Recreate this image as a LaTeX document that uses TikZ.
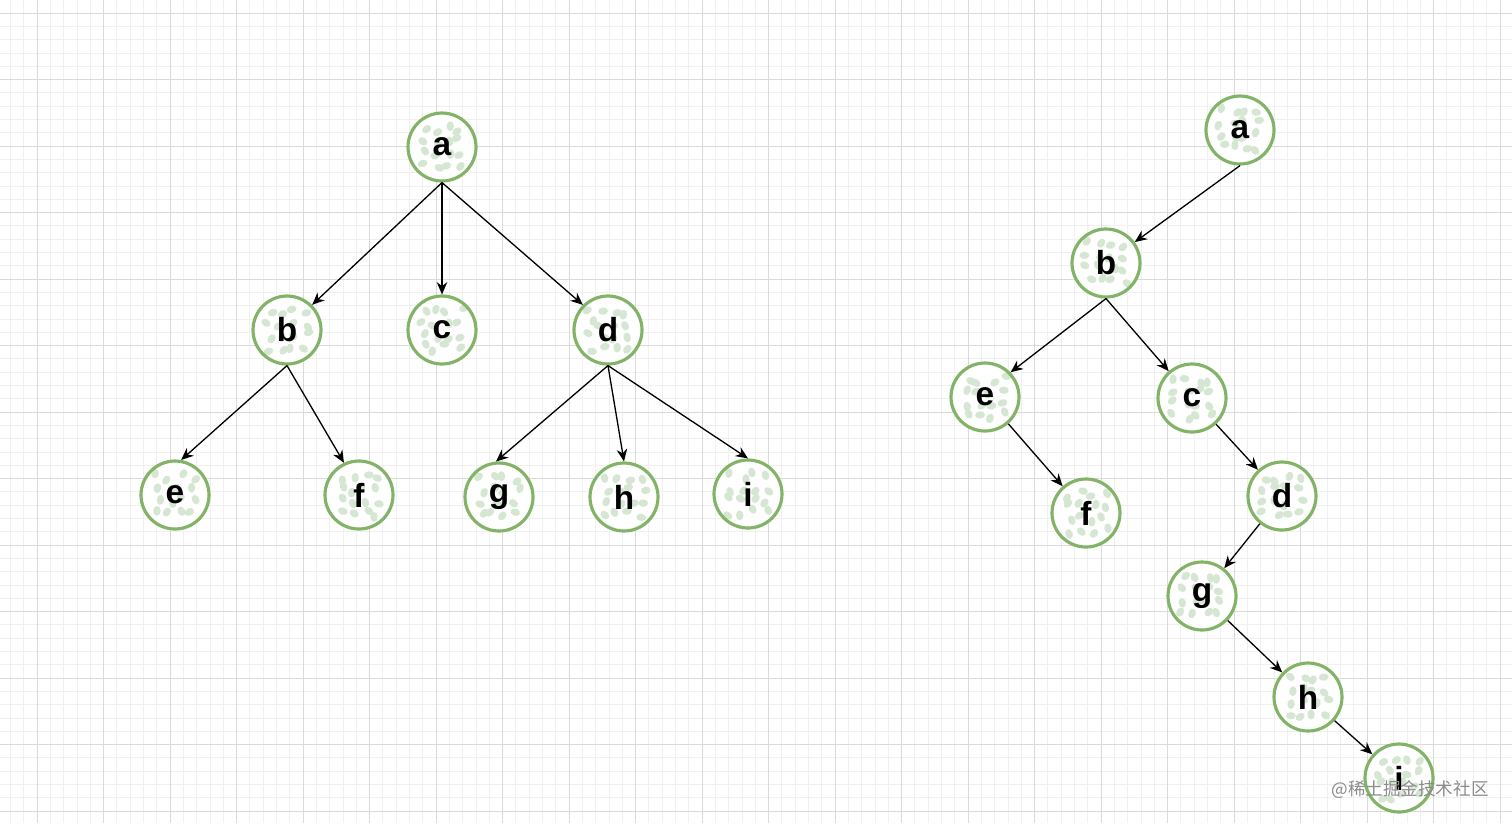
\documentclass[tikz,border=0pt]{standalone}
\usepackage{fontspec}
\setmainfont{Liberation Sans}
\newfontfamily\cjk{Noto Sans CJK SC}
\usetikzlibrary{arrows.meta}
\definecolor{gstroke}{HTML}{82B366}
\definecolor{gdot}{HTML}{D5E7D2}
\definecolor{minorgrid}{HTML}{F0F0F0}
\definecolor{majorgrid}{HTML}{DADADA}
\begin{document}
\pgfmathsetseed{11}
\begin{tikzpicture}[x=0.02cm,y=-0.02cm,
  tnode/.style={circle, inner sep=0pt, minimum size=1.36cm, draw=gstroke,
    line width=1.8pt, fill=white,
    font=\fontsize{19}{19}\bfseries\selectfont,
    path picture={
      \foreach \px in {-18,-6,6,18}{
        \foreach \py in {-18,-6,6,18}{
          \pgfmathsetmacro\dx{\px+4*rand}
          \pgfmathsetmacro\dy{\py+4*rand}
          \pgfmathsetmacro\rr{90*rand}
          \fill[gdot] (path picture bounding box.center) ++(\dx,\dy)
            ellipse [x radius=2.8pt, y radius=2.1pt, rotate=\rr];
        }}}},
  edge/.style={draw=black, line width=0.75pt, -{Stealth[length=7pt,width=6pt]}},
  wmark/.style={text=black!45, font=\cjk\fontsize{10}{10}\selectfont}
]
\useasboundingbox (0,0) rectangle (1512,823);
\fill[white] (0,0) rectangle (1512,823);
% grid
\foreach \i in {-3,...,113}{
  \draw[minorgrid, line width=0.4pt] ({37+13.3*\i},0) -- ({37+13.3*\i},823);
}
\foreach \i in {-1,...,62}{
  \draw[minorgrid, line width=0.4pt] (0,{13+13.3*\i}) -- (1512,{13+13.3*\i});
}
\foreach \i in {0,...,22}{
  \draw[majorgrid, line width=0.5pt] ({37+66.5*\i},0) -- ({37+66.5*\i},823);
}
\foreach \i in {0,...,12}{
  \draw[majorgrid, line width=0.5pt] (0,{13+66.5*\i}) -- (1512,{13+66.5*\i});
}
% left tree
\node[tnode] (La) at (442,147) {a};
\node[tnode] (Lb) at (287,330) {b};
\node[tnode] (Lc) at (442,330) {c};
\node[tnode] (Ld) at (608,330) {d};
\node[tnode] (Le) at (175,495) {e};
\node[tnode] (Lf) at (359,495) {f};
\node[tnode] (Lg) at (499,497) {g};
\node[tnode] (Lh) at (624,497) {h};
\node[tnode] (Li) at (748,494) {i};
\draw[edge] (La.south) -- (Lb.45);
\draw[edge] (La.south) -- (Lc.north);
\draw[edge] (La.south) -- (Ld.135);
\draw[edge] (Lb.south) -- (Le.80);
\draw[edge] (Lb.south) -- (Lf.115);
\draw[edge] (Ld.south) -- (Lg.95);
\draw[edge] (Ld.south) -- (Lh.north);
\draw[edge] (Ld.south) -- (Li.north);
% right tree
\node[tnode] (Ra) at (1240,130) {a};
\node[tnode] (Rb) at (1106,263) {b};
\node[tnode] (Re) at (985,397) {e};
\node[tnode] (Rc) at (1192,398) {c};
\node[tnode] (Rf) at (1086,513) {f};
\node[tnode] (Rd) at (1282,496) {d};
\node[tnode] (Rg) at (1202,596) {g};
\node[tnode] (Rh) at (1308,697) {h};
\node[tnode] (Ri) at (1399,778) {i};
\draw[edge] (Ra.south) -- (Rb);
\draw[edge] (Rb.south) -- (Re.44);
\draw[edge] (Rb.south) -- (Rc);
\draw[edge] (Re) -- (Rf);
\draw[edge] (Rc) -- (Rd);
\draw[edge] (Rd) -- (Rg);
\draw[edge] (Rg) -- (Rh);
\draw[edge] (Rh) -- (Ri);
% watermark
\node[wmark] (wm) at (1410,790) {@稀土掘金技术社区};
\end{tikzpicture}
\end{document}
